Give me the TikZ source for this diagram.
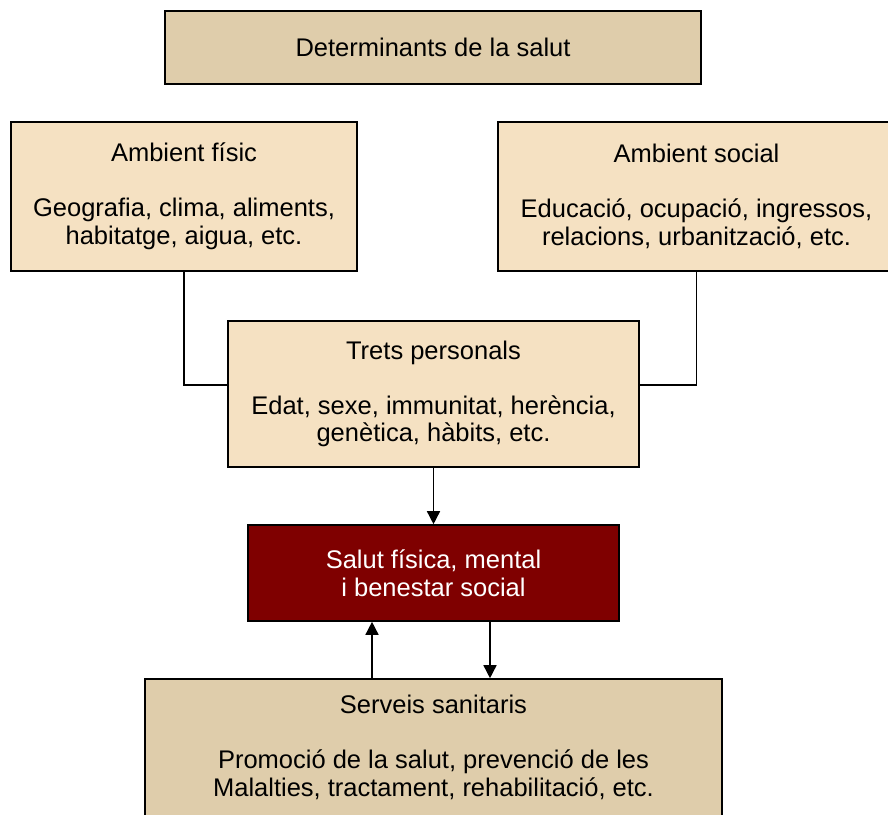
\documentclass[tikz,border=0pt]{standalone}
\usepackage{fontspec}
\setmainfont{Liberation Sans}
\usetikzlibrary{arrows.meta}
\definecolor{tandark}{HTML}{DFCDAB}
\definecolor{tanlight}{HTML}{F5E1C2}
\definecolor{salutred}{HTML}{7F0000}

\begin{document}
\begin{tikzpicture}[x=1pt,y=-1pt,
    box/.style={draw=black,line width=1.6pt,align=center,inner sep=0pt,
      font=\fontsize{25.5}{27.5}\selectfont},
    arr/.style={-{Triangle[width=13pt,length=13pt]},line width=1.5pt}]
      \useasboundingbox (0,0) rectangle (888,814);
      \clip (0,0) rectangle (888,814);
      \node[box,fill=tandark,minimum width=536pt,minimum height=73pt] (title) at (433,47.5) {Determinants de la salut};
      \node[box,fill=tanlight,minimum width=346pt,minimum height=149pt] (fisic) at (184,196.5)
        {Ambient físic\\[27.5pt] Geografia, clima, aliments,\\ habitatge, aigua, etc.};
      \node[box,fill=tanlight,minimum width=397pt,minimum height=149pt] (social) at (696.5,196.5)
        {Ambient social\\[27.5pt] Educació, ocupació, ingressos,\\ relacions, urbanització, etc.};
      \node[box,fill=tanlight,minimum width=411pt,minimum height=146pt] (trets) at (433.5,394)
        {Trets personals\\[27.5pt] Edat, sexe, immunitat, herència,\\ genètica, hàbits, etc.};
      \node[box,fill=salutred,text=white,minimum width=371pt,minimum height=96pt] (salut) at (433.5,573)
        {Salut física, mental\\ i benestar social};
      \node[box,fill=tandark,minimum width=577pt,minimum height=137pt] (serveis) at (433.5,747.5)
        {Serveis sanitaris\\[27.5pt] Promoció de la salut, prevenció de les\\ Malalties, tractament, rehabilitació, etc.};
      \draw[line width=1.5pt] (fisic.south) |- ([yshift=9pt]trets.west);
      \draw[line width=1.5pt] (social.south) |- ([yshift=9pt]trets.east);
      \draw[arr] (trets) -- (salut);
      \draw[arr] ([xshift=-61.5pt]serveis.north) -- ([xshift=-61.5pt]salut.south);
      \draw[arr] ([xshift=56.5pt]salut.south) -- ([xshift=56.5pt]serveis.north);
     \end{tikzpicture}
\end{document}
